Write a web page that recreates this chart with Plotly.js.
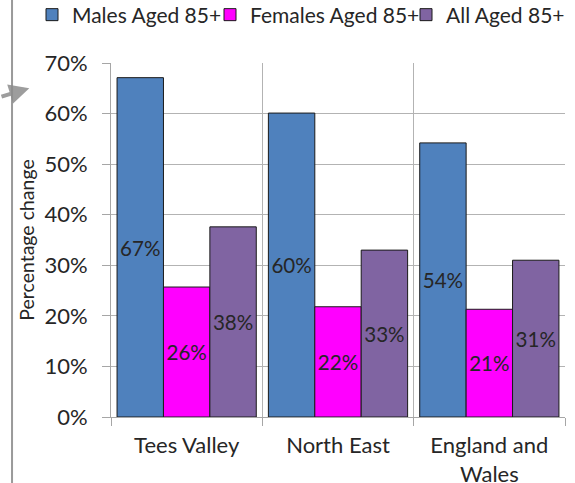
<!DOCTYPE html>
<html>
<head>
<meta charset="utf-8">
<script src="https://cdn.plot.ly/plotly-3.0.1.min.js"></script>
<style>html,body{margin:0;padding:0;background:#fff;}#chart{width:575px;height:483px;}</style>
</head>
<body>
<div id="chart"></div>
<script>
const categories = ["Tees Valley", "North East", "England and<br>Wales"];
const seriesNames = ["Males Aged 85+", "Females Aged 85+", "All Aged 85+"];
const males = [0.671, 0.601, 0.542];
const females = [0.257, 0.218, 0.213];
const allAged = [0.376, 0.330, 0.310];
const colors = ["#4F81BD", "#FF00FF", "#8064A2"];
const yTicks = [0, 0.1, 0.2, 0.3, 0.4, 0.5, 0.6, 0.7];

const FONT = "Lato, 'Open Sans', sans-serif";
const legendIds = ["legend", "legend2", "legend3"];
const legendX = [32, 210, 406];
const seriesValues = [males, females, allAged];
const traces = seriesValues.map((vals, i) => ({
  type: "bar",
  name: seriesNames[i],
  legend: legendIds[i],
  x: categories,
  y: vals,
  marker: {color: colors[i], line: {color: "#1a1a1a", width: 1}},
  texttemplate: "%{y:.0%}",
  textposition: "inside",
  insidetextanchor: "middle",
  textangle: 0,
  textfont: {family: FONT, size: 21, color: "#262626"},
  hoverinfo: "skip"
}));

function makeLegend(px) {
  return {
    orientation: "h", xref: "container", yref: "container",
    x: px / 575, xanchor: "left", y: 1 - 15 / 483, yanchor: "middle",
    font: {family: FONT, size: 21, color: "#262626"},
    itemwidth: 30, bgcolor: "rgba(0,0,0,0)", borderwidth: 0
  };
}

const layout = {
  width: 575, height: 483,
  margin: {l: 111, r: 10, t: 63, b: 66},
  paper_bgcolor: "#fff", plot_bgcolor: "#fff",
  barmode: "group", bargap: 0.08, bargroupgap: 0,
  font: {family: FONT, size: 21, color: "#262626"},
  showlegend: true,
  legend: makeLegend(legendX[0]),
  legend2: makeLegend(legendX[1]),
  legend3: makeLegend(legendX[2]),
  xaxis: {
    type: "category",
    tickson: "boundaries",
    ticks: "outside", ticklen: 8, tickcolor: "#a6a6a6", tickwidth: 1,
    ticklabelstandoff: 9,
    showgrid: true, gridcolor: "#b3b3b3", gridwidth: 1,
    showline: true, linecolor: "#a6a6a6", linewidth: 1,
    tickfont: {family: FONT, size: 22, color: "#262626"},
    automargin: false,
    fixedrange: true
  },
  yaxis: {
    range: [0, 0.7],
    tickvals: yTicks,
    tickformat: ".0%",
    ticks: "outside", ticklen: 8, tickcolor: "#a6a6a6", tickwidth: 1,
    ticklabelstandoff: 10,
    showgrid: true, gridcolor: "#b3b3b3", gridwidth: 1,
    showline: true, linecolor: "#a6a6a6", linewidth: 1,
    zeroline: false,
    tickfont: {family: FONT, size: 22, color: "#262626"},
    title: {text: "Percentage change", font: {family: FONT, size: 19.5, color: "#262626"}, standoff: 4},
    automargin: false,
    fixedrange: true
  },
  shapes: [{
    type: "line", xref: "paper", yref: "paper",
    x0: -0.218, x1: -0.218, y0: -0.19, y1: 1.18,
    line: {color: "#9a9a9a", width: 2}
  }],
  annotations: [{
    xref: "paper", yref: "paper", x: -0.18, y: 0.929,
    text: "", showarrow: true, arrowhead: 2, arrowsize: 1, arrowwidth: 4,
    arrowcolor: "rgba(140,140,140,0.85)", ax: -30, ay: 9
  }]
};

Plotly.newPlot("chart", traces, layout, {displayModeBar: false, staticPlot: true});
</script>
</body>
</html>
